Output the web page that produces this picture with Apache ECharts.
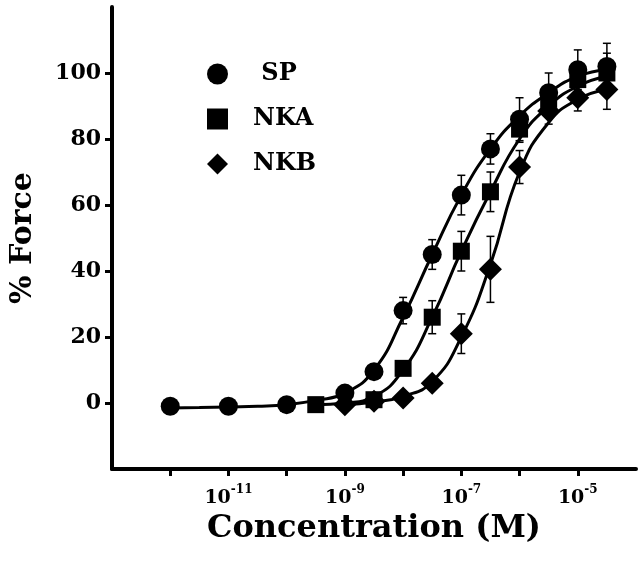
<!DOCTYPE html>
<html>
<head>
<meta charset="utf-8">
<script src="https://cdn.jsdelivr.net/npm/echarts@6/dist/echarts.min.js"></script>
<style>
  html, body { margin: 0; padding: 0; background: #fff; }
  #chart { width: 640px; height: 566px; }
</style>
</head>
<body>
<div id="chart"></div>
<script>
// log10 of concentration (M); measured points with SEM
const spConc = [-12, -11, -10, -9, -8.5, -8, -7.5, -7, -6.5, -6, -5.5, -5, -4.5]
const spForce = [-1, -1, -0.5, 3, 9.5, 28, 45, 63, 77, 86, 94, 101, 102]
const spErr = [0, 0, 0, 1.5, 1.5, 4, 4.5, 6, 4.6, 6.5, 6, 6, 7]

const nkaConc = [-9.5, -8.5, -8, -7.5, -7, -6.5, -6, -5.5, -5, -4.5]
const nkaForce = [-0.5, 1, 10.5, 26, 46, 64, 83, 92, 98, 100]
const nkaErr = [0, 0, 2, 5, 6, 6, 4, 4, 5, 6]

const nkbConc = [-9, -8.5, -8, -7.5, -7, -6.5, -6, -5.5, -5, -4.5]
const nkbForce = [-0.5, 0.5, 1.5, 6, 21, 40.5, 71.5, 88.5, 92.5, 95]
const nkbErr = [0, 0, 0, 1, 6, 10, 5, 4, 4, 6]

// fitted curves, every half decade
const spFitConc = [-12, -11.5, -11, -10.5, -10, -9.5, -9, -8.5, -8, -7.5, -7, -6.5, -6, -5.5, -5, -4.5]
const spFit = [-1.5, -1.4, -1.2, -1, -0.5, 0.8, 3, 10, 26, 45, 63, 77, 87, 94, 99, 101]
const nkaFitConc = [-9.5, -9, -8.5, -8, -7.5, -7, -6.5, -6, -5.5, -5, -4.5]
const nkaFit = [-0.5, 0, 2, 10, 26, 46, 64, 80, 90, 96, 99]
const nkbFitConc = [-9, -8.5, -8, -7.5, -7, -6.5, -6, -5.5, -5, -4.5]
const nkbFit = [-0.5, 0.3, 2, 6.5, 20, 42, 70, 85, 92, 95]

const xTicks = [-12, -11, -10, -9, -8, -7, -6, -5]
const xLabels = [-11, -9, -7, -5]
const yTicks = [0, 20, 40, 60, 80, 100]

const font = 'DejaVu Serif'
const chart = echarts.init(document.getElementById('chart'))

const pts = (xs, ys) => xs.map((x, i) => [x, ys[i]])
const errPts = (xs, ys, es) => xs.map((x, i) => [x, ys[i] - es[i], ys[i] + es[i]])

function errorBars(params, api) {
    const x = api.value(0)
    const lo = api.coord([x, api.value(1)])
    const hi = api.coord([x, api.value(2)])
    const cap = 4
    const style = { stroke: '#000', lineWidth: 1.5 }
    return {
        type: 'group',
        children: [
            { type: 'line', shape: { x1: lo[0], y1: lo[1], x2: hi[0], y2: hi[1] }, style },
            { type: 'line', shape: { x1: hi[0] - cap, y1: hi[1], x2: hi[0] + cap, y2: hi[1] }, style },
            { type: 'line', shape: { x1: lo[0] - cap, y1: lo[1], x2: lo[0] + cap, y2: lo[1] }, style }
        ]
    }
}

const groups = [
    { name: 'SP', conc: spConc, force: spForce, err: spErr, fitConc: spFitConc, fit: spFit, symbol: 'circle', size: 19 },
    { name: 'NKA', conc: nkaConc, force: nkaForce, err: nkaErr, fitConc: nkaFitConc, fit: nkaFit, symbol: 'rect', size: 17 },
    { name: 'NKB', conc: nkbConc, force: nkbForce, err: nkbErr, fitConc: nkbFitConc, fit: nkbFit, symbol: 'diamond', size: 23 }
]

const series = []
groups.forEach(g => {
    series.push({
        type: 'custom',
        name: g.name + '-err',
        renderItem: errorBars,
        data: errPts(g.conc, g.force, g.err),
        z: 1,
        silent: true
    })
    series.push({
        type: 'line',
        name: g.name + '-fit',
        data: pts(g.fitConc, g.fit),
        smooth: 0.5,
        showSymbol: false,
        lineStyle: { color: '#000', width: 3 },
        z: 2,
        silent: true
    })
    series.push({
        type: 'scatter',
        name: g.name,
        data: pts(g.conc, g.force),
        symbol: g.symbol,
        symbolSize: g.size,
        itemStyle: { color: '#000', opacity: 1 },
        z: 3
    })
})

const option = {
    backgroundColor: '#fff',
    animation: false,
    grid: { left: 111, right: 4, top: 7, bottom: 97, containLabel: false },
    legend: {
        orient: 'vertical',
        left: 202,
        top: 57,
        itemWidth: 21,
        itemHeight: 21,
        itemGap: 21,
        data: [
            { name: 'SP', icon: 'circle' },
            { name: 'NKA', icon: 'rect' },
            { name: 'NKB', icon: 'path://M12,0L24,12L12,24L0,12Z' }
        ],
        itemStyle: { color: '#000', opacity: 1 },
        formatter: name => name === 'SP' ? ' ' + name : name,
        textStyle: { fontFamily: font, fontWeight: 'bold', fontSize: 24, color: '#000', padding: [0, 0, 0, 20] }
    },
    xAxis: {
        type: 'value',
        min: -13,
        max: -4,
        name: 'Concentration (M)',
        nameLocation: 'middle',
        nameGap: 36,
        nameTextStyle: { fontFamily: font, fontWeight: 'bold', fontSize: 32, color: '#000' },
        axisLine: { onZero: false, lineStyle: { color: '#000', width: 4 } },
        axisTick: { customValues: xTicks, length: 7, lineStyle: { color: '#000', width: 3 } },
        axisLabel: {
            customValues: xLabels,
            margin: 15,
            formatter: v => '{b|10}{s|' + v + '}',
            rich: {
                b: { fontFamily: font, fontWeight: 'bold', fontSize: 19, color: '#000', lineHeight: 24, verticalAlign: 'bottom' },
                s: { fontFamily: font, fontWeight: 'bold', fontSize: 12, color: '#000', verticalAlign: 'top' }
            }
        },
        splitLine: { show: false }
    },
    yAxis: {
        type: 'value',
        min: -20,
        max: 120,
        name: '% Force',
        nameLocation: 'middle',
        nameGap: 74,
        nameTextStyle: { fontFamily: font, fontWeight: 'bold', fontSize: 30, color: '#000' },
        axisLine: { onZero: false, lineStyle: { color: '#000', width: 4 } },
        axisTick: { customValues: yTicks, length: 7, lineStyle: { color: '#000', width: 3 } },
        axisLabel: {
            customValues: yTicks,
            margin: 11,
            fontFamily: font,
            fontWeight: 'bold',
            fontSize: 22,
            color: '#000'
        },
        splitLine: { show: false }
    },
    series: series
}

chart.setOption(option)
</script>
</body>
</html>
